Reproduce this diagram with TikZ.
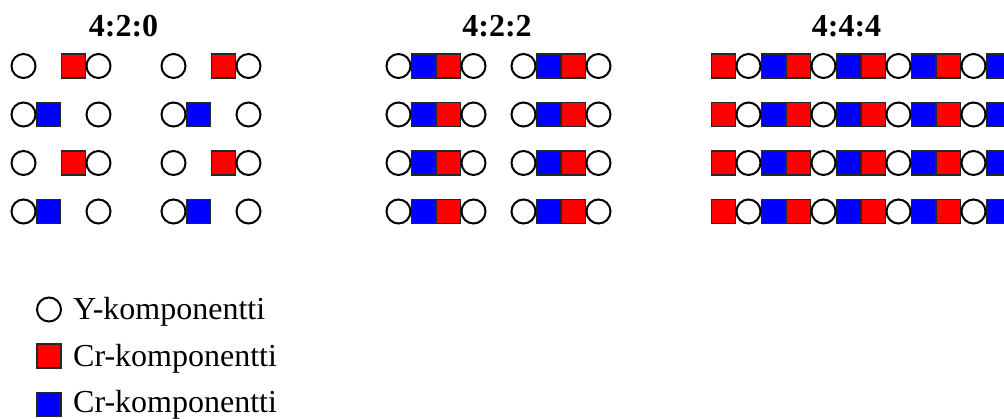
\documentclass[tikz,border=0pt]{standalone}
\usepackage{fontspec}
\setmainfont{Liberation Serif}
\begin{document}
\begin{tikzpicture}[x=1pt,y=-1pt,
  ycomp/.style={circle,draw=black,line width=2pt,fill=white,minimum size=24pt,inner sep=0pt},
  crsq/.style={rectangle,draw=black!85,line width=1.6pt,fill=red,minimum size=24pt,inner sep=0pt},
  cbsq/.style={rectangle,draw=black!85,line width=1.6pt,fill=blue,minimum size=24pt,inner sep=0pt},
  title/.style={font=\fontsize{32}{38}\selectfont\bfseries,anchor=base,inner sep=0pt},
  legtext/.style={font=\fontsize{32}{38}\selectfont,anchor=base west,inner sep=0pt}]
\useasboundingbox (0,0) rectangle (1004,419);
\clip (0,0) rectangle (1004,419);
% titles
\node[title] (t420) at (123.5,37) {4:2:0};
\node[title] (t422) at (497,37) {4:2:2};
\node[title] (t444) at (846.5,37) {4:4:4};
\foreach \r/\y in {1/66,2/114.5,3/163,4/211.5}{
  % 4:2:0
  \ifodd\r
    \foreach \c/\s in {0/ycomp,2/crsq,3/ycomp,6/ycomp,8/crsq,9/ycomp}
      \node[\s] (a\r-\c) at ({23.5+25*\c},\y) {};
  \else
    \foreach \c/\s in {0/ycomp,1/cbsq,3/ycomp,6/ycomp,7/cbsq,9/ycomp}
      \node[\s] (a\r-\c) at ({23.5+25*\c},\y) {};
  \fi
  % 4:2:2
  \foreach \c/\s in {16/cbsq,17/crsq,15/ycomp,18/ycomp,21/cbsq,22/crsq,20/ycomp,23/ycomp}
    \node[\s] (b\r-\c) at ({23.5+25*\c},\y) {};
  % 4:4:4
  \foreach \k in {0,...,3}{
    \node[crsq] (c\r-\k r) at ({23.5+25*(28+3*\k)},\y) {};
    \node[cbsq] (c\r-\k b) at ({23.5+25*(30+3*\k)},\y) {};
    \node[ycomp] (c\r-\k y) at ({23.5+25*(29+3*\k)},\y) {};
  }
}
% legend
\node[ycomp] (ly) at (49,309.5) {};
\node[crsq] (lr) at (49,356) {};
\node[cbsq] (lb) at (49,404.5) {};
\node[legtext] (tly) at (73,320) {Y-komponentti};
\node[legtext] (tlr) at (73,367) {Cr-komponentti};
\node[legtext] (tlb) at (73,413) {Cr-komponentti};
\end{tikzpicture}
\end{document}
